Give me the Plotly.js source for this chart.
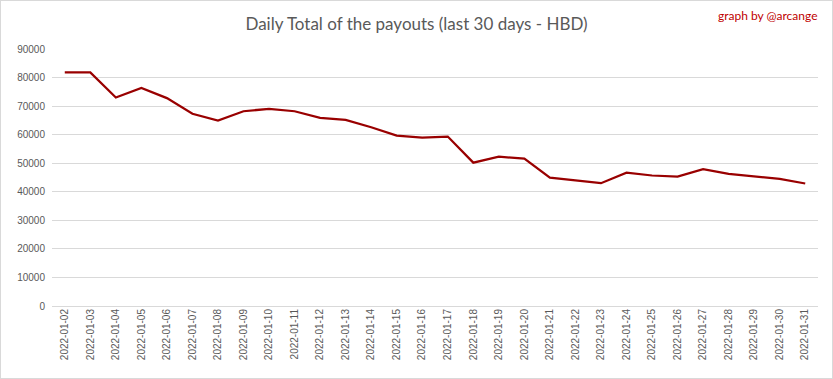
<!DOCTYPE html>
<html>
<head>
<meta charset="utf-8">
<script src="https://cdn.plot.ly/plotly-3.0.1.min.js"></script>
<style>
html,body{margin:0;padding:0;background:#fff;}
#wrap{width:831px;height:377px;border:1px solid #d9d9d9;}
</style>
</head>
<body>
<div id="wrap"><div id="chart" style="width:831px;height:377px;"></div></div>
<script>
const dates = ["2022-01-02","2022-01-03","2022-01-04","2022-01-05","2022-01-06","2022-01-07","2022-01-08","2022-01-09","2022-01-10","2022-01-11","2022-01-12","2022-01-13","2022-01-14","2022-01-15","2022-01-16","2022-01-17","2022-01-18","2022-01-19","2022-01-20","2022-01-21","2022-01-22","2022-01-23","2022-01-24","2022-01-25","2022-01-26","2022-01-27","2022-01-28","2022-01-29","2022-01-30","2022-01-31"];
const payouts = [81800,81800,73000,76400,72800,67300,64950,68200,69050,68200,65900,65200,62600,59700,59000,59350,50200,52300,51600,44950,44000,43000,46700,45700,45300,47950,46300,45300,44500,42900];
const yTicks = [0,10000,20000,30000,40000,50000,60000,70000,80000,90000];

const trace = {
  x: dates, y: payouts, type: 'scatter', mode: 'lines',
  line: {color: '#990000', width: 2.25},
  hoverinfo: 'x+y'
};
const layout = {
  width: 831, height: 377,
  margin: {l: 51, r: 14, t: 48, b: 72},
  paper_bgcolor: '#fff', plot_bgcolor: '#fff',
  font: {family: 'Lato, "Open Sans", sans-serif', color: '#595959', size: 11},
  title: {text: 'Daily Total of the payouts (last 30 days - HBD)', x: 0.5, xanchor: 'center', y: 0.94, yanchor: 'middle',
          font: {family: 'Lato, "Open Sans", sans-serif', size: 17, color: '#595959'}},
  xaxis: {type: 'category', tickvals: dates, ticktext: dates, tickangle: -90,
          showgrid: false, showline: false, zeroline: false, ticks: '',
          tickfont: {family: '"Liberation Sans", Arial, sans-serif', size: 10, color: '#595959'},
          range: [-0.5, dates.length - 0.5]},
  yaxis: {range: [0, 90000], tickvals: yTicks, ticktext: yTicks.map(String),
          showgrid: true, gridcolor: '#d9d9d9', gridwidth: 1, zeroline: true, zerolinecolor: '#d9d9d9', zerolinewidth: 1,
          showline: false, ticks: '', ticklabelstandoff: 6,
          tickfont: {family: '"Liberation Sans", Arial, sans-serif', size: 10, color: '#595959'}},
  showlegend: false,
  annotations: [{text: 'graph by @arcange', xref: 'paper', yref: 'paper', x: 1.003, y: 1.13, xanchor: 'right', yanchor: 'middle',
                 showarrow: false, font: {family: 'Lato, "Open Sans", sans-serif', size: 12, color: '#c00000'}}]
};
Plotly.newPlot('chart', [trace], layout, {displayModeBar: false, staticPlot: true});
</script>
</body>
</html>
